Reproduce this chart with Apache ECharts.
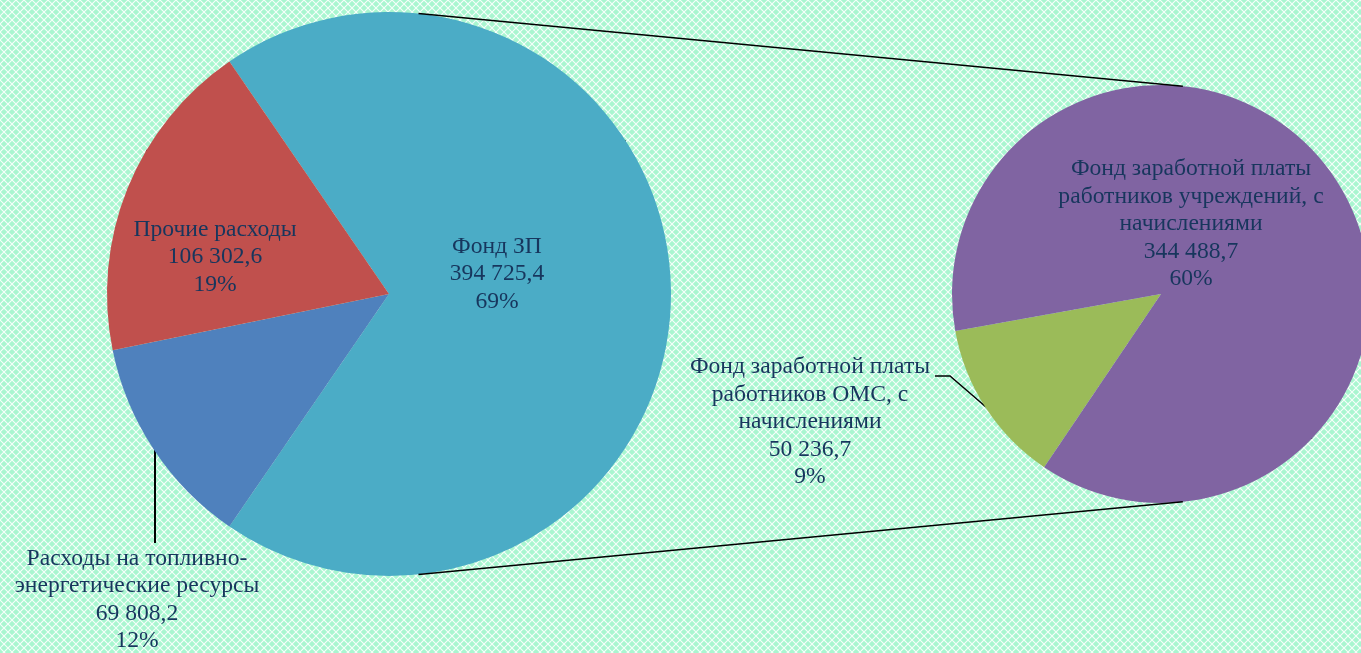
<!DOCTYPE html>
<html><head><meta charset="utf-8">
<script src="https://cdn.jsdelivr.net/npm/echarts@6/dist/echarts.min.js"></script>
<style>html,body{margin:0;padding:0;background:#fff;} #c{width:1361px;height:653px;}</style>
</head><body><div id="c"></div>
<script>
// ---- data ----
const mainNames = ['Фонд ЗП', 'Расходы на топливно-\nэнергетические ресурсы', 'Прочие расходы'];
const mainValues = [394725.4, 69808.2, 106302.6];
const subNames = ['Фонд заработной платы\nработников ОМС, с\nначислениями', 'Фонд заработной платы\nработников учреждений, с\nначислениями'];
const subValues = [50236.7, 344488.7];
const mainColors = ['#4BACC6', '#4F81BD', '#C0504D'];
const subColors = ['#9BBB59', '#8064A2'];

// ---- helpers ----
const total = mainValues.reduce((a, b) => a + b, 0);
function fmt(v) {
  const parts = v.toFixed(1).split('.');
  return parts[0].replace(/\B(?=(\d{3})+(?!\d))/g, ' ') + ',' + parts[1];
}
function labelText(p) {
  return p.name + '\n' + fmt(p.value) + '\n' + Math.round(p.value / total * 100) + '%';
}

// ---- layout ----
const C1 = [389, 294], R1 = 282;
const C2 = [1161, 294], R2 = 209;
const startMain = 180 * mainValues[0] / total;
const startSub = 236;
const txtColor = '#17365d';
const font = 'Liberation Serif';
const fs = 23.6, lh = 27.5;

// background pattern
const pc = document.createElement('canvas');
pc.width = 8; pc.height = 8;
const g = pc.getContext('2d');
g.fillStyle = '#a9f6d0';
g.fillRect(0, 0, 8, 8);
g.strokeStyle = 'rgba(255,255,255,0.9)';
g.lineWidth = 1.1;
g.beginPath();
g.moveTo(0, 0); g.lineTo(8, 8);
g.moveTo(8, 0); g.lineTo(0, 8);
g.stroke();

const mainOff = [[108, -20], [-252, 306], [-174, -37]];
const subOff = [[-351, 128], [30, -70]];

const chart = echarts.init(document.getElementById('c'), null, { renderer: 'canvas' });

const ang = 84 * Math.PI / 180;
const p1t = [C1[0] + R1 * Math.cos(ang), C1[1] - R1 * Math.sin(ang)];
const p1b = [C1[0] + R1 * Math.cos(ang), C1[1] + R1 * Math.sin(ang)];
const p2t = [C2[0] + R2 * Math.cos(ang), C2[1] - R2 * Math.sin(ang)];
const p2b = [C2[0] + R2 * Math.cos(ang), C2[1] + R2 * Math.sin(ang)];

const labelBase = {
  position: 'inside',
  formatter: labelText,
  color: txtColor,
  fontFamily: font,
  fontSize: fs,
  lineHeight: lh,
  align: 'center',
  overflow: 'none'
};

chart.setOption({
  backgroundColor: { image: pc, repeat: 'repeat' },
  animation: false,
  series: [
    {
      type: 'pie',
      center: C1,
      radius: R1,
      startAngle: startMain,
      clockwise: true,
      itemStyle: { borderWidth: 0 },
      label: labelBase,
      labelLine: { show: true, lineStyle: { color: '#000', width: 2 } },
      labelLayout: function (p) {
        const o = mainOff[p.dataIndex];
        const r = { x: C1[0] + o[0], y: C1[1] + o[1], align: 'center', verticalAlign: 'middle' };
        if (p.dataIndex === 1) {
          r.labelLinePoints = [[C1[0] - 234, C1[1] + 156], [C1[0] - 234, C1[1] + 200], [C1[0] - 234, C1[1] + 249]];
        }
        return r;
      },
      data: mainNames.map((n, i) => ({
        name: n, value: mainValues[i],
        itemStyle: { color: mainColors[i] },
        label: i === 1 ? { position: 'outside', width: 400, overflow: 'none' } : undefined
      }))
    },
    {
      type: 'pie',
      center: C2,
      radius: R2,
      startAngle: startSub,
      clockwise: true,
      itemStyle: { borderWidth: 0 },
      label: labelBase,
      labelLine: { show: true, lineStyle: { color: '#000', width: 1.5 } },
      labelLayout: function (p) {
        const o = subOff[p.dataIndex];
        const r = { x: C2[0] + o[0], y: C2[1] + o[1], align: 'center', verticalAlign: 'middle' };
        if (p.dataIndex === 0) {
          r.labelLinePoints = [[C2[0] - 175, C2[1] + 113], [C2[0] - 211, C2[1] + 82], [C2[0] - 226, C2[1] + 82]];
        }
        return r;
      },
      data: subNames.map((n, i) => ({
        name: n, value: subValues[i],
        itemStyle: { color: subColors[i] },
        label: i === 0 ? { position: 'outside', width: 400, overflow: 'none' } : undefined
      }))
    }
  ],
  graphic: [
    { type: 'line', z: 100, shape: { x1: p1t[0], y1: p1t[1], x2: p2t[0], y2: p2t[1] }, style: { stroke: '#000', lineWidth: 1.5 } },
    { type: 'line', z: 100, shape: { x1: p1b[0], y1: p1b[1], x2: p2b[0], y2: p2b[1] }, style: { stroke: '#000', lineWidth: 1.5 } }
  ]
});
</script>
</body></html>
